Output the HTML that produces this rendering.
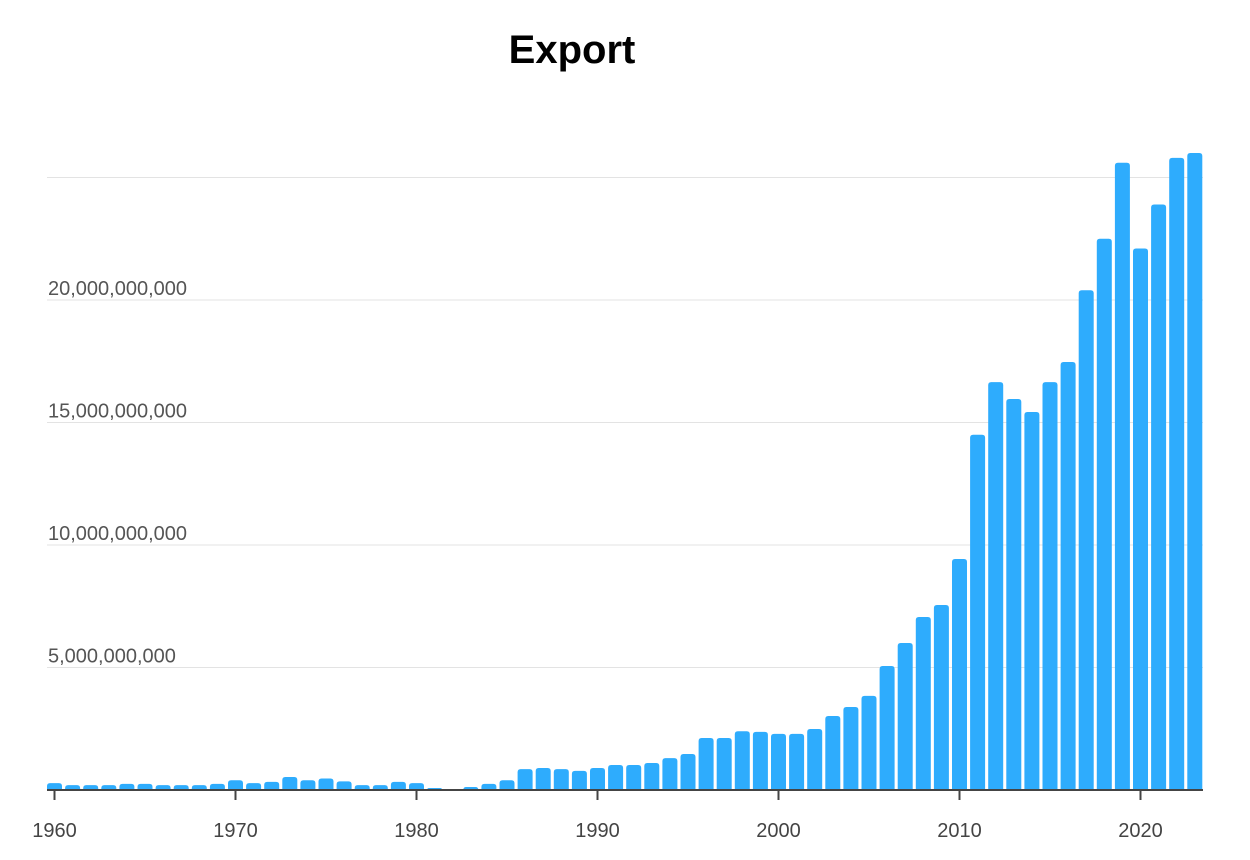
<!DOCTYPE html>
<html><head><meta charset="utf-8"><style>
body{margin:0;background:#fff;width:1250px;height:855px;overflow:hidden;font-family:"Liberation Sans",sans-serif}
</style></head><body>
<svg id="chart" width="1250" height="855" xmlns="http://www.w3.org/2000/svg">
<text x="572" y="63" text-anchor="middle" font-family="Liberation Sans, sans-serif" font-weight="bold" font-size="40" fill="#000">Export</text>
<g id="grid"></g><g id="bars"></g><g id="axis"></g>
</svg>
<script>
const years = [];
for (let y = 1960; y <= 2023; y++) years.push(y);
const exportValues = [0.28,0.2,0.2,0.2,0.25,0.25,0.2,0.2,0.2,0.25,0.4,0.28,0.33,0.53,0.4,0.47,0.35,0.2,0.2,0.33,0.28,0.08,0,0.12,0.25,0.4,0.85,0.9,0.85,0.78,0.9,1.02,1.02,1.1,1.3,1.47,2.12,2.12,2.4,2.37,2.29,2.29,2.49,3.02,3.39,3.84,5.06,6.0,7.06,7.55,9.43,14.5,16.65,15.96,15.43,16.65,17.47,20.4,22.5,25.6,22.1,23.9,25.8,26.0].map(v=>v*1e9);
const yTicks = [5e9,10e9,15e9,20e9,25e9];
const yTickLabels = ["5,000,000,000","10,000,000,000","15,000,000,000","20,000,000,000",""];
const xTickYears = [1960,1970,1980,1990,2000,2010,2020];

const NS="http://www.w3.org/2000/svg";
const base=790, pxPerUnit=24.5/1e9, x0=54.5, pitch=18.1, bw=15;
const yS=v=>base-v*pxPerUnit;
const xS=yr=>x0+(yr-1960)*pitch;
function mk(tag,attrs,parent){const e=document.createElementNS(NS,tag);for(const k in attrs)e.setAttribute(k,attrs[k]);parent.appendChild(e);return e;}
const grid=document.getElementById('grid'),bars=document.getElementById('bars'),axis=document.getElementById('axis');
yTicks.forEach((t,i)=>{
  const l=mk('line',{x1:47,x2:1203,y1:yS(t),y2:yS(t),stroke:'#e3e3e3','stroke-width':1},grid);
  
  
  if(yTickLabels[i]){
    const tx=mk('text',{x:48,y:yS(t)-5,'font-size':20,fill:'#555','font-family':'Liberation Sans, sans-serif'},grid);
    tx.textContent=yTickLabels[i];
    
    
  }
});
years.forEach((yr,i)=>{
  const v=exportValues[i];
  const h=base-yS(v);
  if(h<=0)return;
  const r=mk('path',{fill:'#2eacfd',d:(()=>{const x=xS(yr)-bw/2,y=yS(v),rr=Math.min(3,h);return `M${x},${base}V${y+rr}Q${x},${y} ${x+rr},${y}H${x+bw-rr}Q${x+bw},${y} ${x+bw},${y+rr}V${base}Z`;})()},bars);
  
  
});
const ax=mk('line',{x1:47,x2:1203,y1:base,y2:base,stroke:'#444','stroke-width':2},axis);


xTickYears.forEach(yr=>{
  const tk=mk('line',{x1:xS(yr),x2:xS(yr),y1:base,y2:base+10,stroke:'#444','stroke-width':2},axis);
  
  
  const tx=mk('text',{x:xS(yr),y:base+47,'text-anchor':'middle','font-size':20,fill:'#444','font-family':'Liberation Sans, sans-serif'},axis);
  tx.textContent=yr;
  
  
});
</script>
</body></html>
